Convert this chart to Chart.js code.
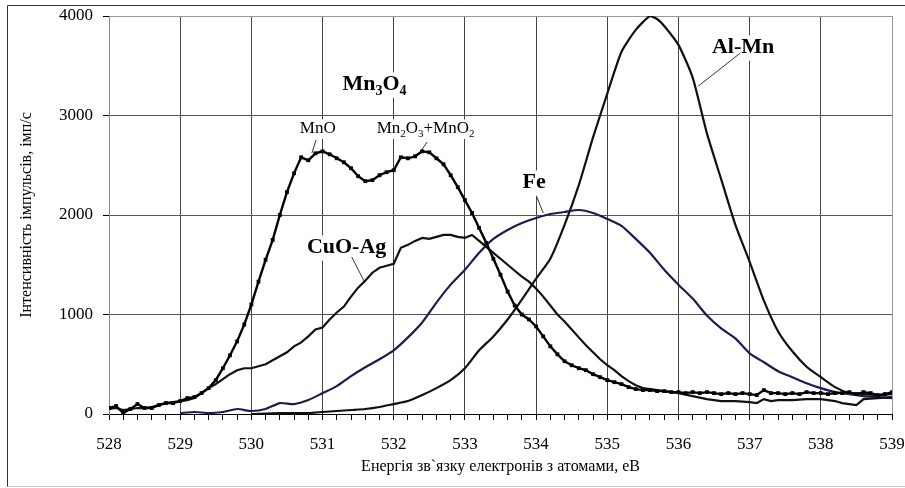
<!DOCTYPE html>
<html>
<head>
<meta charset="utf-8">
<script src="https://cdn.jsdelivr.net/npm/chart.js@4.4.1/dist/chart.umd.min.js"></script>
<style>
  html, body { margin: 0; padding: 0; background: #fff; }
  #wrap { width: 905px; height: 488px; }
</style>
</head>
<body>
<div id="wrap"><canvas id="xpsChart" width="905" height="488"></canvas></div>
<script>
// Енергія (еВ) та інтенсивність (імп/с) для кожного зразка
var mn3o4E = [528.0,528.1,528.2,528.3,528.4,528.5,528.6,528.7,528.8,528.9,529.0,529.1,529.2,529.3,529.4,529.5,529.6,529.7,529.8,529.9,
  530.0,530.1,530.2,530.3,530.4,530.5,530.6,530.7,530.8,530.9,531.0,531.1,531.2,531.3,531.4,531.5,531.6,531.7,531.8,531.9,
  532.0,532.1,532.2,532.3,532.4,532.5,532.6,532.7,532.8,532.9,533.0,533.1,533.2,533.3,533.4,533.5,533.6,533.7,533.8,533.9,
  534.0,534.1,534.2,534.3,534.4,534.5,534.6,534.7,534.8,534.9,535.0,535.1,535.2,535.3,535.4,535.5,535.6,535.7,535.8,535.9,
  536.0,536.1,536.2,536.3,536.4,536.5,536.6,536.7,536.8,536.9,537.0,537.1,537.2,537.3,537.4,537.5,537.6,537.7,537.8,537.9,
  538.0,538.1,538.2,538.3,538.4,538.5,538.6,538.7,538.8,538.9,539.0];
var mn3o4I = [60,80,10,50,100,60,60,90,110,110,130,160,170,210,260,340,460,590,730,900,
  1100,1330,1550,1750,2000,2230,2420,2580,2550,2620,2640,2610,2570,2530,2470,2390,2340,2350,2400,2430,
  2450,2580,2570,2590,2640,2630,2570,2510,2400,2280,2150,2020,1870,1720,1560,1400,1230,1090,1000,950,
  880,780,680,600,530,490,460,440,400,370,340,320,300,270,250,240,240,230,230,220,
  220,210,220,210,220,210,200,210,200,210,200,190,240,210,210,200,210,200,220,210,
  210,200,210,210,220,200,220,210,190,200,220];

var cuoAgE = [528.0,528.1,528.2,528.3,528.4,528.5,528.6,528.7,528.8,528.9,529.0,529.1,529.2,529.3,529.4,529.5,529.6,529.7,529.8,529.9,
  530.0,530.1,530.2,530.3,530.4,530.5,530.6,530.7,530.8,530.9,531.0,531.1,531.2,531.3,531.4,531.5,531.6,531.7,531.8,531.9,
  532.0,532.1,532.2,532.3,532.4,532.5,532.6,532.7,532.8,532.9,533.0,533.1,533.2,533.3,533.4,533.5,533.6,533.7,533.8,533.9,
  534.0,534.1,534.2,534.3,534.4,534.5,534.6,534.7,534.8,534.9,535.0,535.1,535.2,535.3,535.4,535.5,535.6,535.8,
  536.0,536.2,536.4,536.6,536.8,537.0,537.1,537.2,537.3,537.4,537.6,537.8,538.0,538.2,538.3,538.4,538.5,538.6,538.8,539.0];
var cuoAgI = [50,60,40,50,60,60,70,90,110,120,130,140,160,210,260,300,350,400,440,460,
  460,480,500,540,580,620,680,720,780,850,870,950,1020,1080,1180,1270,1340,1420,1470,1490,
  1510,1670,1700,1740,1770,1760,1780,1800,1800,1780,1770,1800,1740,1680,1620,1560,1500,1440,1380,1330,
  1260,1180,1090,1000,930,850,770,690,620,550,490,440,380,330,290,260,250,230,
  210,180,150,130,130,120,110,150,130,140,140,150,150,130,110,100,90,150,160,170];

var feE = [529.0,529.2,529.4,529.6,529.8,530.0,530.2,530.4,530.6,530.8,531.0,531.2,531.4,531.6,531.8,532.0,532.2,532.4,532.6,532.8,
  533.0,533.2,533.4,533.6,533.8,534.0,534.2,534.4,534.6,534.8,535.0,535.2,535.4,535.6,535.8,536.0,536.2,536.4,536.6,536.8,
  537.0,537.2,537.4,537.6,537.8,538.0,538.2,538.4,538.6,538.8,539.0];
var feI = [10,20,10,20,50,30,50,110,100,140,210,280,380,470,550,640,770,920,1120,1300,
  1450,1620,1760,1850,1920,1970,2010,2030,2050,2020,1960,1890,1760,1620,1450,1300,1160,990,860,760,
  610,520,430,370,310,260,220,200,180,170,160];

var alMnE = [530.0,530.4,530.8,531.0,531.2,531.4,531.6,531.8,532.0,532.2,532.4,532.6,532.8,533.0,533.2,533.4,533.6,533.8,534.0,534.2,
  534.4,534.6,534.8,535.0,535.2,535.4,535.6,535.7,535.8,536.0,536.2,536.4,536.6,536.8,537.0,537.2,537.4,537.6,537.8,538.0,
  538.2,538.4,538.6,538.8,539.0];
var alMnI = [0,10,10,20,30,40,50,70,100,130,190,260,340,460,640,780,950,1150,1360,1560,
  1900,2300,2780,3220,3640,3860,4000,3970,3900,3710,3380,2820,2360,1900,1530,1140,830,630,475,370,
  270,210,200,190,200];

var xTicks = [528, 529, 530, 531, 532, 533, 534, 535, 536, 537, 538, 539];
var yTicks = [0, 1000, 2000, 3000, 4000];

// Підписи кривих (положення в координатах даних) та виносні лінії
var annotations = [
  { parts: [['Mn', 0], ['3', 1], ['O', 0], ['4', 1]], bold: true, size: 22, x: 531.28, y: 3256 },
  { parts: [['MnO', 0]], bold: false, size: 17, x: 530.68, y: 2824, line: [530.91, 2754, 530.85, 2623] },
  { parts: [['Mn', 0], ['2', 1], ['O', 0], ['3', 1], ['+MnO', 0], ['2', 1]], bold: false, size: 17, x: 531.76, y: 2824, line: [532.47, 2734, 532.37, 2633] },
  { parts: [['Fe', 0]], bold: true, size: 22, x: 533.81, y: 2271, line: [534.01, 2181, 534.1, 2020] },
  { parts: [['CuO-Ag', 0]], bold: true, size: 22, x: 530.78, y: 1618, line: [531.41, 1578, 531.59, 1327] },
  { parts: [['Al-Mn', 0]], bold: true, size: 22, x: 536.47, y: 3628, line: [536.87, 3628, 536.28, 3296] }
];

function pairs(xs, ys) {
  return xs.map(function(x, i) { return { x: x, y: ys[i] }; });
}

function isMajor(v) {
  return Math.abs(v - Math.round(v)) < 1e-6;
}

var SERIF = '"Liberation Serif", "Times New Roman", serif';

var framePlugin = {
  id: 'frame',
  beforeDraw: function(chart) {
    var ctx = chart.ctx;
    ctx.save();
    ctx.fillStyle = '#fff';
    ctx.fillRect(0, 0, chart.width, chart.height);
    ctx.strokeStyle = '#333';
    ctx.lineWidth = 1;
    ctx.beginPath();
    ctx.moveTo(905, 5.5); ctx.lineTo(7.5, 5.5); ctx.lineTo(7.5, 487);
    ctx.stroke();
    ctx.strokeStyle = '#ccc';
    ctx.beginPath();
    ctx.moveTo(7.5, 486.5); ctx.lineTo(905, 486.5);
    ctx.stroke();
    ctx.restore();
  }
};

function drawParts(ctx, a, x0, y0, draw) {
  var x = x0;
  a.parts.forEach(function(p) {
    var sz = p[1] ? Math.round(a.size * 0.65) : a.size;
    ctx.font = (a.bold ? 'bold ' : '') + sz + 'px ' + SERIF;
    if (draw) ctx.fillText(p[0], x, y0 + (p[1] ? a.size * 0.22 : 0));
    x += ctx.measureText(p[0]).width;
  });
  return x - x0;
}

var labelPlugin = {
  id: 'curveLabels',
  beforeDatasetsDraw: function(chart) {
    var ctx = chart.ctx;
    var xs = chart.scales.x, ys = chart.scales.y;
    ctx.save();
    ctx.textBaseline = 'alphabetic';
    ctx.textAlign = 'left';
    annotations.forEach(function(a) {
      var px = xs.getPixelForValue(a.x);
      var py = ys.getPixelForValue(a.y);
      var w = drawParts(ctx, a, px, py, false);
      ctx.fillStyle = '#fff';
      ctx.fillRect(px - 4, py - a.size * 0.8, w + 8, a.size * 1.15);
      ctx.fillStyle = '#000';
      drawParts(ctx, a, px, py, true);
      if (a.line) {
        ctx.strokeStyle = '#333';
        ctx.lineWidth = 1;
        ctx.beginPath();
        ctx.moveTo(xs.getPixelForValue(a.line[0]), ys.getPixelForValue(a.line[1]));
        ctx.lineTo(xs.getPixelForValue(a.line[2]), ys.getPixelForValue(a.line[3]));
        ctx.stroke();
      }
    });
    ctx.restore();
  }
};

var ctx = document.getElementById('xpsChart').getContext('2d');
var xpsChart = new Chart(ctx, {
  type: 'line',
  data: {
    datasets: [
      {
        label: 'Mn3O4',
        data: pairs(mn3o4E, mn3o4I),
        borderColor: '#000',
        backgroundColor: '#000',
        borderWidth: 2.4,
        pointStyle: 'rect',
        pointRadius: 1,
        tension: 0
      },
      {
        label: 'CuO-Ag',
        data: pairs(cuoAgE, cuoAgI),
        borderColor: '#111',
        borderWidth: 2.2,
        pointRadius: 0,
        tension: 0
      },
      {
        label: 'Fe',
        data: pairs(feE, feI),
        borderColor: '#1c1c50',
        borderWidth: 2.2,
        pointRadius: 0,
        tension: 0.2
      },
      {
        label: 'Al-Mn',
        data: pairs(alMnE, alMnI),
        borderColor: '#111',
        borderWidth: 2.2,
        pointRadius: 0,
        tension: 0.2
      }
    ]
  },
  options: {
    responsive: false,
    animation: false,
    devicePixelRatio: 1,
    layout: { padding: { left: 7, top: 16, right: 13, bottom: 0 } },
    scales: {
      x: {
        type: 'linear',
        min: xTicks[0],
        max: xTicks[xTicks.length - 1],
        afterFit: function(scale) {
          scale.height = 74;
          scale.paddingLeft = 0;
          scale.paddingRight = 0;
        },
        ticks: {
          stepSize: 0.2,
          autoSkip: false,
          maxRotation: 0,
          padding: 14,
          color: '#000',
          font: { family: SERIF, size: 17 },
          callback: function(v) { return isMajor(v) ? String(Math.round(v)) : ''; }
        },
        grid: {
          tickLength: 6,
          tickColor: '#000',
          color: function(c) {
            var v = c.tick ? c.tick.value : 0;
            if (!isMajor(v)) return 'rgba(0,0,0,0)';
            return Math.round(v) === 539 ? '#999' : '#444';
          }
        },
        border: { color: '#000', width: 1 },
        title: {
          display: true,
          text: 'Енергія зв`язку електронів з атомами, еВ',
          color: '#000',
          font: { family: SERIF, size: 16 },
          padding: { top: 0, bottom: 12 }
        }
      },
      y: {
        min: yTicks[0],
        max: yTicks[yTicks.length - 1],
        afterFit: function(scale) {
          scale.width = 102;
          scale.paddingTop = 0;
          scale.paddingBottom = 0;
        },
        ticks: {
          stepSize: 1000,
          padding: 10,
          color: '#000',
          font: { family: SERIF, size: 17 },
          callback: function(v) { return String(v); }
        },
        grid: {
          tickLength: 6,
          tickColor: '#000',
          color: function(c) {
            var v = c.tick ? c.tick.value : 0;
            return v === 4000 ? '#999' : '#555';
          }
        },
        border: { color: '#888', width: 1 },
        title: {
          display: true,
          text: 'Інтенсивність імпульсів, імп/с',
          color: '#000',
          font: { family: SERIF, size: 16 },
          padding: { top: 10, bottom: 0 }
        }
      }
    },
    plugins: {
      legend: { display: false },
      tooltip: { enabled: false }
    }
  },
  plugins: [framePlugin, labelPlugin]
});
</script>
</body>
</html>
